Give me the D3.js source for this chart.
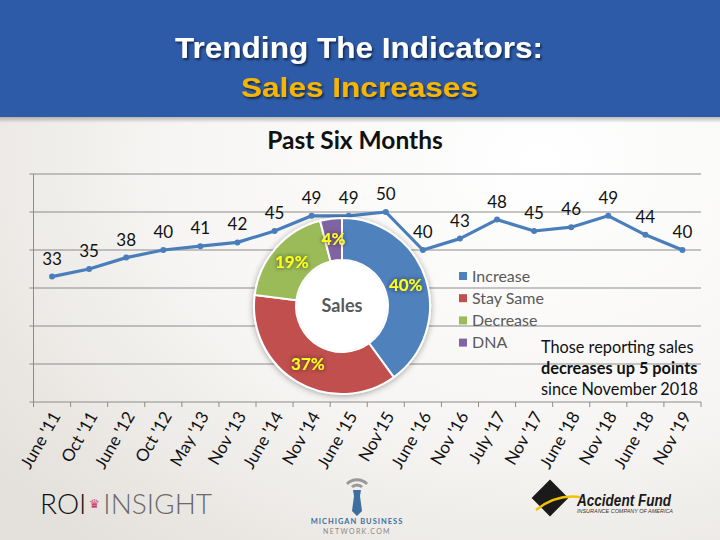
<!DOCTYPE html>
<html>
<head>
<meta charset="utf-8">
<script src="https://cdn.jsdelivr.net/npm/d3@7"></script>
<style>
  html, body { margin: 0; padding: 0; }
  body { width: 720px; height: 540px; overflow: hidden; }
  svg { display: block; font-family: Lato, "Open Sans", sans-serif; }
</style>
</head>
<body>
<script>
// line chart data
const periods = ["June '11", "Oct '11", "June '12", "Oct '12", "May '13", "Nov '13", "June '14", "Nov '14",
  "June '15", "Nov'15", "June '16", "Nov '16", "July '17", "Nov '17", "June '18", "Nov '18", "June '18", "Nov '19"]
const increasePct = [33, 35, 38, 40, 41, 42, 45, 49, 49, 50, 40, 43, 48, 45, 46, 49, 44, 40]
const yTicks = [0, 10, 20, 30, 40, 50, 60]

// donut data (latest wave)
const answers = ['Increase', 'Stay Same', 'Decrease', 'DNA']
const answerShare = [40, 37, 19, 4]
const answerColors = ['#4F81BD', '#C0504D', '#9BBB59', '#8064A2']

const W = 720, H = 540
const plot = { left: 33.5, right: 701, top: 174, bottom: 402 }

const svg = d3.select('body').append('svg')
  .attr('width', W)
  .attr('height', H)

const defs = svg.append('defs')

const bg = defs.append('radialGradient')
  .attr('id', 'bg')
  .attr('cx', '0.75').attr('cy', '0.3').attr('r', '0.95')
bg.append('stop').attr('offset', '0%').attr('stop-color', '#ffffff')
bg.append('stop').attr('offset', '55%').attr('stop-color', '#f6f5f3')
bg.append('stop').attr('offset', '100%').attr('stop-color', '#e4e0db')

const bandShadow = defs.append('linearGradient')
  .attr('id', 'bandShadow')
  .attr('x1', 0).attr('y1', 0).attr('x2', 0).attr('y2', 1)
bandShadow.append('stop').attr('offset', '0%').attr('stop-color', '#000').attr('stop-opacity', 0.25)
bandShadow.append('stop').attr('offset', '100%').attr('stop-color', '#000').attr('stop-opacity', 0)

defs.append('filter').attr('id', 'titleShadow')
  .attr('x', '-5%').attr('y', '-20%').attr('width', '110%').attr('height', '150%')
  .append('feDropShadow')
  .attr('dx', 1.5).attr('dy', 2).attr('stdDeviation', 1.2)
  .attr('flood-color', '#000').attr('flood-opacity', 0.55)

defs.append('filter').attr('id', 'donutShadow')
  .attr('x', '-20%').attr('y', '-20%').attr('width', '140%').attr('height', '140%')
  .append('feDropShadow')
  .attr('dx', 0).attr('dy', 1).attr('stdDeviation', 3)
  .attr('flood-color', '#000').attr('flood-opacity', 0.35)

defs.append('filter').attr('id', 'labelGlow')
  .attr('x', '-30%').attr('y', '-30%').attr('width', '160%').attr('height', '160%')
  .append('feDropShadow')
  .attr('dx', 0).attr('dy', 0).attr('stdDeviation', 2)
  .attr('flood-color', '#222').attr('flood-opacity', 0.8)

// background + header band
svg.append('rect').attr('width', W).attr('height', H).attr('fill', 'url(#bg)')
svg.append('rect').attr('y', 117).attr('width', W).attr('height', 6).attr('fill', 'url(#bandShadow)')
svg.append('rect').attr('width', W).attr('height', 117).attr('fill', '#2D5BA8')

svg.append('text')
  .attr('x', 359).attr('y', 57.5)
  .attr('text-anchor', 'middle')
  .attr('textLength', 368).attr('lengthAdjust', 'spacingAndGlyphs')
  .attr('font-family', '"Liberation Sans", Arial, sans-serif')
  .attr('font-weight', 'bold').attr('font-size', 29)
  .attr('fill', '#fff')
  .attr('filter', 'url(#titleShadow)')
  .text('Trending The Indicators:')

svg.append('text')
  .attr('x', 359.5).attr('y', 97)
  .attr('text-anchor', 'middle')
  .attr('textLength', 237).attr('lengthAdjust', 'spacingAndGlyphs')
  .attr('font-family', '"Liberation Sans", Arial, sans-serif')
  .attr('font-weight', 'bold').attr('font-size', 28)
  .attr('fill', '#F7B500')
  .attr('filter', 'url(#titleShadow)')
  .text('Sales Increases')

svg.append('text')
  .attr('x', 355).attr('y', 149)
  .attr('text-anchor', 'middle')
  .attr('font-weight', 'bold').attr('font-size', 24.5)
  .attr('fill', '#111')
  .text('Past Six Months')

// scales
const x = d3.scaleBand()
  .domain(d3.range(periods.length))
  .range([plot.left, plot.right])

const y = d3.scaleLinear()
  .domain([0, 60])
  .range([plot.bottom, plot.top])

const cx = i => x(i) + x.bandwidth() / 2

// gridlines
svg.append('g')
  .selectAll('line')
  .data(yTicks.filter(v => v > 0))
  .join('line')
  .attr('x1', plot.left - 4).attr('x2', plot.right)
  .attr('y1', d => y(d)).attr('y2', d => y(d))
  .attr('stroke', '#8c8c8c').attr('stroke-width', 1)

// y axis line
svg.append('line')
  .attr('x1', plot.left).attr('x2', plot.left)
  .attr('y1', y(60)).attr('y2', y(0))
  .attr('stroke', '#8c8c8c')

// x axis with boundary ticks
const xAxis = svg.append('g')
svg.append('line')
  .attr('x1', plot.left - 4).attr('x2', plot.right)
  .attr('y1', y(0)).attr('y2', y(0))
  .attr('stroke', '#8c8c8c')

xAxis.selectAll('line')
  .data(d3.range(periods.length + 1))
  .join('line')
  .attr('x1', i => i < periods.length ? x(i) : plot.right)
  .attr('x2', i => i < periods.length ? x(i) : plot.right)
  .attr('y1', y(0)).attr('y2', y(0) + 5)
  .attr('stroke', '#8c8c8c')

xAxis.selectAll('text')
  .data(periods)
  .join('text')
  .attr('transform', (d, i) => `translate(${cx(i) + 4},${y(0) + 11}) rotate(-60)`)
  .attr('text-anchor', 'end')
  .attr('dy', '0.35em')
  .attr('font-size', 17)
  .attr('fill', '#111')
  .text(d => d)

// trend line
const line = d3.line()
  .x((d, i) => cx(i))
  .y(d => y(d))

svg.append('path')
  .datum(increasePct)
  .attr('d', line)
  .attr('fill', 'none')
  .attr('stroke', '#4A7EBB')
  .attr('stroke-width', 3.2)
  .attr('stroke-linejoin', 'round')

svg.append('g')
  .selectAll('circle')
  .data(increasePct)
  .join('circle')
  .attr('cx', (d, i) => cx(i))
  .attr('cy', d => y(d))
  .attr('r', 3)
  .attr('fill', '#4A7EBB')

svg.append('g')
  .selectAll('text')
  .data(increasePct)
  .join('text')
  .attr('x', (d, i) => cx(i))
  .attr('y', d => y(d) - 12)
  .attr('text-anchor', 'middle')
  .attr('font-size', 17)
  .attr('fill', '#111')
  .text(d => d)

// donut
const donutC = { x: 342, y: 306 }
const pie = d3.pie().sort(null).value(d => d)
const arcs = pie(answerShare)
const arc = d3.arc().innerRadius(46).outerRadius(88)
const labelArc = d3.arc().innerRadius(67).outerRadius(67)

const donut = svg.append('g')
  .attr('transform', `translate(${donutC.x},${donutC.y})`)

donut.append('g')
  .attr('filter', 'url(#donutShadow)')
  .selectAll('path')
  .data(arcs)
  .join('path')
  .attr('d', arc)
  .attr('fill', (d, i) => answerColors[i])
  .attr('stroke', '#fff')
  .attr('stroke-width', 2)

donut.append('circle')
  .attr('r', 45)
  .attr('fill', '#fff')

donut.append('text')
  .attr('dy', '0.35em')
  .attr('text-anchor', 'middle')
  .attr('font-weight', 'bold').attr('font-size', 18)
  .attr('fill', '#595959')
  .text('Sales')

donut.append('g')
  .selectAll('text')
  .data(arcs)
  .join('text')
  .attr('transform', d => `translate(${labelArc.centroid(d)})`)
  .attr('dy', '0.35em')
  .attr('text-anchor', 'middle')
  .attr('font-weight', 'bold').attr('font-size', 17)
  .attr('fill', '#FFFF1A')
  .attr('filter', 'url(#labelGlow)')
  .text(d => `${d.data}%`)

// legend
const legend = svg.append('g')
  .attr('transform', 'translate(459,276)')
  .selectAll('g')
  .data(answers)
  .join('g')
  .attr('transform', (d, i) => `translate(0,${i * 22.2})`)

legend.append('rect')
  .attr('y', -4).attr('width', 8).attr('height', 8)
  .attr('fill', (d, i) => answerColors[i])

legend.append('text')
  .attr('x', 13).attr('dy', '0.35em')
  .attr('font-size', 16)
  .attr('fill', '#595959')
  .text(d => d)

// annotation
const note = svg.append('text')
  .attr('x', 541).attr('font-size', 16.3).attr('fill', '#111')
note.append('tspan').attr('x', 541).attr('y', 353).text('Those reporting sales')
note.append('tspan').attr('x', 541).attr('y', 374).attr('font-weight', 'bold').text('decreases up 5 points')
note.append('tspan').attr('x', 541).attr('y', 395).text('since November 2018')

// footer logos
const roi = svg.append('text')
  .attr('x', 40).attr('y', 514)
  .attr('font-size', 28).attr('font-weight', 300)
roi.append('tspan').attr('fill', '#111').text('ROI')
roi.append('tspan').attr('fill', '#C2355F').attr('font-size', 12).attr('dx', 3).attr('dy', -6).text('♛')
roi.append('tspan').attr('fill', '#6a6a6a').attr('dx', 3).attr('dy', 6).attr('font-weight', 300).text('INSIGHT')

const mbn = svg.append('g').attr('transform', 'translate(357,0)')
mbn.append('path')
  .attr('d', 'M-10,484 A14,14 0 0 1 10,484')
  .attr('fill', 'none').attr('stroke', '#999').attr('stroke-width', 3)
mbn.append('path')
  .attr('d', 'M-5,487 A7,7 0 0 1 5,487')
  .attr('fill', 'none').attr('stroke', '#999').attr('stroke-width', 3)
mbn.append('path')
  .attr('d', 'M-4,490 L4,490 L3,496 L5,511 L0,516 L-5,511 L-3,496 Z')
  .attr('fill', '#3C6E9F')
mbn.append('text')
  .attr('y', 524).attr('text-anchor', 'middle')
  .attr('font-size', 7.5).attr('font-weight', 'bold').attr('letter-spacing', 1)
  .attr('fill', '#3C6E9F')
  .text('MICHIGAN BUSINESS')
mbn.append('text')
  .attr('y', 534).attr('text-anchor', 'middle')
  .attr('font-size', 7).attr('letter-spacing', 1.3)
  .attr('fill', '#888')
  .text('NETWORK.COM')

const af = svg.append('g')
af.append('rect')
  .attr('x', -13).attr('y', -13).attr('width', 26).attr('height', 26)
  .attr('transform', 'translate(550,498) rotate(45)')
  .attr('fill', '#1a1a1a')
af.append('path')
  .attr('d', 'M536,510 Q556,494 580,497')
  .attr('fill', 'none').attr('stroke', '#F2C200').attr('stroke-width', 2.5)
af.append('text')
  .attr('x', 577).attr('y', 506)
  .attr('font-family', '"Liberation Sans", Arial, sans-serif')
  .attr('font-size', 16).attr('font-weight', 'bold').attr('font-style', 'italic')
  .attr('textLength', 94).attr('lengthAdjust', 'spacingAndGlyphs')
  .attr('fill', '#1a1a1a')
  .text('Accident Fund')
af.append('text')
  .attr('x', 577).attr('y', 513)
  .attr('font-family', '"Liberation Sans", Arial, sans-serif')
  .attr('font-size', 5).attr('font-style', 'italic')
  .attr('textLength', 96).attr('lengthAdjust', 'spacingAndGlyphs')
  .attr('fill', '#333')
  .text('INSURANCE COMPANY OF AMERICA')
</script>
</body>
</html>
